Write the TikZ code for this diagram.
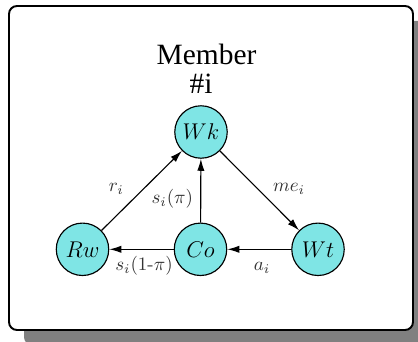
\documentclass[tikz,border=0pt]{standalone}
\usepackage{fontspec}
\usetikzlibrary{arrows.meta}
\newfontfamily\titlefont{Liberation Serif}
\definecolor{nodefill}{RGB}{127,229,229}
\definecolor{shadowgray}{RGB}{128,128,128}
\tikzset{
  state/.style={circle, draw=black, line width=0.6pt, fill=nodefill, minimum size=27.6pt, inner sep=0pt, font=\fontsize{13}{15}\selectfont},
  conn/.style={line width=0.6pt, -{Latex[length=6.3pt,width=3.8pt]}},
  lbl/.style={anchor=base, inner sep=0pt, text=black!80},
  ttl/.style={anchor=base, inner sep=0pt, font=\titlefont\fontsize{15.5}{16}\selectfont}
}
\begin{document}
\begin{tikzpicture}[x=0.5263pt, y=-0.5263pt]
\useasboundingbox (0,0) rectangle (418,342);
% shadow and frame
\fill[shadowgray, rounded corners=4.2pt] (24,21) rectangle (428,345);
\draw[line width=1pt, fill=white, rounded corners=4.2pt] (9,6) rectangle (413,330);
% title
\node[ttl] (t1) at (206.5,65) {Member};
\node[ttl] (t2) at (201,94) {\#i};
% states
\node[state] (wk) at (201,132) {$Wk$};
\node[state] (rw) at (82.5,249.3) {$Rw$};
\node[state] (co) at (200.5,249.3) {$Co$};
\node[state] (wt) at (318,249.3) {$Wt$};
% connectors
\draw[conn] (rw) -- (wk);
\draw[conn] (co) -- (wk);
\draw[conn] (wk) -- (wt);
\draw[conn] (co) -- (rw);
\draw[conn] (wt) -- (co);
% labels
\node[lbl] (lr) at (116.3,191.5) {$r_i$};
\node[lbl] (ls) at (172.3,204) {$s_i(\pi)$};
\node[lbl] (lm) at (289,191.5) {$me_i$};
\node[lbl] (ls2) at (144,270.5) {$s_i(1$-$\pi)$};
\node[lbl] (la) at (262,270.5) {$a_i$};
\end{tikzpicture}
\end{document}
